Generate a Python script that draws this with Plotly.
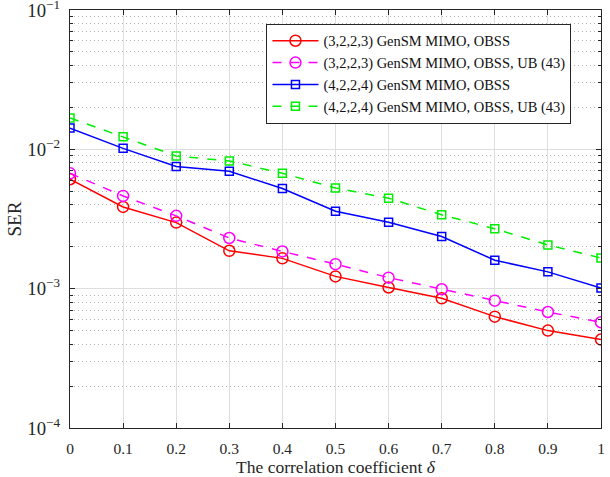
import plotly.graph_objects as go

delta = [0, 0.1, 0.2, 0.3, 0.4, 0.5, 0.6, 0.7, 0.8, 0.9, 1.0]
ser_3223 = [6.1e-3, 3.86e-3, 2.98e-3, 1.87e-3, 1.65e-3, 1.225e-3, 1.02e-3, 8.53e-4, 6.3e-4, 5.0e-4, 4.31e-4]
ser_3223_ub = [6.73e-3, 4.63e-3, 3.33e-3, 2.31e-3, 1.85e-3, 1.50e-3, 1.20e-3, 9.9e-4, 8.2e-4, 6.8e-4, 5.74e-4]
ser_4224 = [1.42e-2, 1.016e-2, 7.52e-3, 6.97e-3, 5.23e-3, 3.60e-3, 3.00e-3, 2.37e-3, 1.60e-3, 1.32e-3, 1.01e-3]
ser_4224_ub = [1.68e-2, 1.23e-2, 8.96e-3, 8.25e-3, 6.73e-3, 5.28e-3, 4.46e-3, 3.39e-3, 2.69e-3, 2.06e-3, 1.66e-3]

names = ["(3,2,2,3) GenSM MIMO, OBSS", "(3,2,2,3) GenSM MIMO, OBSS, UB (43)",
         "(4,2,2,4) GenSM MIMO, OBSS", "(4,2,2,4) GenSM MIMO, OBSS, UB (43)"]
x_ticks = [0, 0.1, 0.2, 0.3, 0.4, 0.5, 0.6, 0.7, 0.8, 0.9, 1]
x_ticktext = ["0", "0.1", "0.2", "0.3", "0.4", "0.5", "0.6", "0.7", "0.8", "0.9", "1"]

font = "Times New Roman"

series = [
    (ser_3223, names[0], "#FF0000", "solid", "circle-open", 11),
    (ser_3223_ub, names[1], "#FF00FF", "dash", "circle-open", 11),
    (ser_4224, names[2], "#0000FF", "solid", "square-open", 8),
    (ser_4224_ub, names[3], "#00EE00", "dash", "square-open", 8),
]

fig = go.Figure()
for y, name, color, dash, sym, sz in series:
    fig.add_trace(go.Scatter(
        x=delta, y=y, name=name, mode="lines+markers",
        line=dict(color=color, width=1.5, dash=dash),
        marker=dict(symbol=sym, size=sz, color=color, line=dict(width=1.5, color=color)),
    ))

fig.update_layout(
    width=610, height=477,
    margin=dict(l=70, r=9, t=10, b=49),
    paper_bgcolor="white", plot_bgcolor="white",
    font=dict(family=font, size=15, color="#262626"),
    showlegend=True,
    legend=dict(
        x=0.37, y=0.967, xanchor="left", yanchor="top",
        bgcolor="white", bordercolor="#262626", borderwidth=1,
        font=dict(family=font, size=14.5, color="#111111"),
        tracegroupgap=0, itemwidth=46,
    ),
)

fig.update_xaxes(
    range=[0, 1], tickvals=x_ticks, ticktext=x_ticktext,
    showgrid=True, gridcolor="#DEDEDE", gridwidth=1,
    ticks="inside", ticklen=5, tickcolor="#262626",
    showline=True, linecolor="#262626", linewidth=1, mirror="ticks",
    zeroline=False, ticklabelstandoff=6, automargin=False,
    ticklabeloverflow="allow",
    tickfont=dict(family=font, size=15.5),
    title=dict(text="The correlation coefficient <i>δ</i>", font=dict(family=font, size=17.5), standoff=4),
)
fig.update_yaxes(
    type="log", range=[-4, -1], tickmode="linear", tick0=0, dtick=1,
    exponentformat="power", showexponent="all",
    showgrid=True, gridcolor="#DEDEDE", gridwidth=1,
    ticks="inside", ticklen=5, tickcolor="#262626",
    showline=True, linecolor="#262626", linewidth=1, mirror="ticks",
    zeroline=False, ticklabelstandoff=6, automargin=False,
    ticklabeloverflow="allow",
    tickfont=dict(family=font, size=15),
    minor=dict(dtick="D1", ticks="inside", ticklen=3, tickcolor="#262626", showgrid=True,
               gridcolor="#B4B4B4", griddash="1px,3px", gridwidth=1),
    title=dict(text="SER", font=dict(family=font, size=19), standoff=0),
)

fig.write_html("out.html")
